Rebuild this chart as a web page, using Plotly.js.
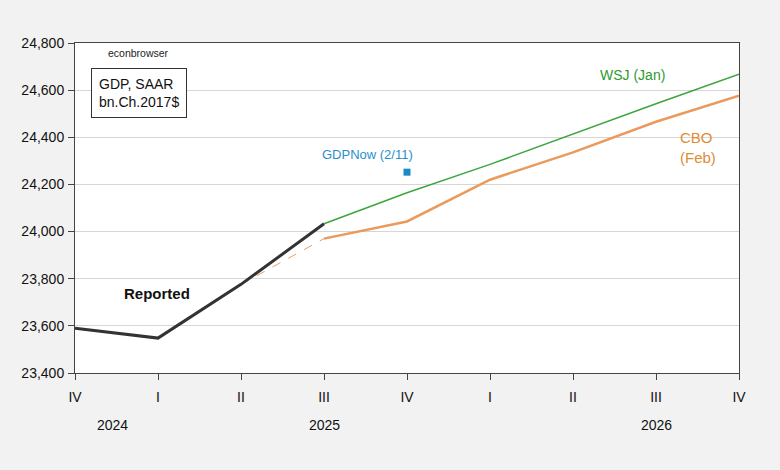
<!DOCTYPE html>
<html>
<head>
<meta charset="utf-8">
<script src="https://cdn.plot.ly/plotly-3.0.1.min.js"></script>
<style>html,body{margin:0;padding:0;background:#f2f2f2;}#chart{width:780px;height:470px;}</style>
</head>
<body>
<div id="chart"></div>
<script>
// Quarter index: 0 = 2024Q4 ... 8 = 2026Q4
const quarterLabels = ["IV","I","II","III","IV","I","II","III","IV"];
const yearLabels = ["2024","2025","2026"];
const yearPositions = [0.45, 3, 7];

const reportedX = [0, 1, 2, 3];
const reportedY = [23590, 23548, 23776, 24033];

const cboDashX = [2, 3];
const cboDashY = [23776, 23970];

const cboX = [3, 4, 5, 6, 7, 8];
const cboY = [23970, 24043, 24220, 24336, 24466, 24576];

const wsjX = [3, 4, 5, 6, 7, 8];
const wsjY = [24033, 24165, 24285, 24415, 24542, 24668];

const gdpNowX = [4];
const gdpNowY = [24252];

const traces = [
  {x: cboDashX, y: cboDashY, mode: "lines", line: {color: "#e8a060", width: 1, dash: "dash"}, hoverinfo: "skip"},
  {x: cboX, y: cboY, mode: "lines", line: {color: "#e99a5c", width: 2.5}},
  {x: wsjX, y: wsjY, mode: "lines", line: {color: "#3ea53e", width: 1.5}},
  {x: reportedX, y: reportedY, mode: "lines", line: {color: "#333333", width: 3}},
  {x: gdpNowX, y: gdpNowY, mode: "markers", marker: {color: "#1f88c8", size: 7, symbol: "square"}}
];

const font = "Liberation Sans, Arial, sans-serif";

const annotations = [
  {text: "econbrowser", x: 0.095, y: 0.97, xref: "paper", yref: "paper", showarrow: false, font: {family: font, size: 10.5, color: "#222"}, xanchor: "center", yanchor: "middle"},
  {text: "GDP, SAAR<br>bn.Ch.2017$", x: 0.097, y: 0.85, xref: "paper", yref: "paper", showarrow: false, align: "left", font: {family: font, size: 14, color: "#111"}, bordercolor: "#333", borderwidth: 1, borderpad: 7, bgcolor: "#ffffff", xanchor: "center", yanchor: "middle"},
  {text: "GDPNow (2/11)", x: 3.52, y: 24325, showarrow: false, font: {family: font, size: 13, color: "#2a90cc"}, xanchor: "center", yanchor: "middle"},
  {text: "WSJ (Jan)", x: 6.72, y: 24665, showarrow: false, font: {family: font, size: 14, color: "#2e9a2e"}, xanchor: "center", yanchor: "middle"},
  {text: "CBO<br>(Feb)", x: 7.27, y: 24358, showarrow: false, align: "left", font: {family: font, size: 15, color: "#e08c34"}, xanchor: "left", yanchor: "middle"},
  {text: "<b>Reported</b>", x: 0.99, y: 23738, showarrow: false, font: {family: font, size: 15, color: "#111"}, xanchor: "center", yanchor: "middle"}
];
yearLabels.forEach((t, i) => {
  annotations.push({text: t, x: yearPositions[i], y: -0.158, xref: "x", yref: "paper", showarrow: false, font: {family: font, size: 14, color: "#111"}, xanchor: "center", yanchor: "middle"});
});

const layout = {
  width: 780, height: 470,
  margin: {l: 75, r: 41, t: 43, b: 97},
  paper_bgcolor: "#f2f2f2",
  plot_bgcolor: "#ffffff",
  showlegend: false,
  font: {family: font, size: 14, color: "#111"},
  xaxis: {
    range: [0, 8], tickmode: "array", tickvals: [0,1,2,3,4,5,6,7,8], ticktext: quarterLabels,
    showgrid: false, zeroline: false, showline: true, linecolor: "#444", linewidth: 1, mirror: true,
    ticks: "outside", ticklen: 6, tickcolor: "#444", ticklabelstandoff: 5,
    tickfont: {family: font, size: 14, color: "#111"}
  },
  yaxis: {
    range: [23400, 24800], tickvals: [23400, 23600, 23800, 24000, 24200, 24400, 24600, 24800],
    tickformat: ",d", showgrid: true, gridcolor: "#d6d6d6", gridwidth: 1, zeroline: false,
    showline: true, linecolor: "#444", linewidth: 1, mirror: true,
    ticks: "outside", ticklen: 6, tickcolor: "#444", ticklabelstandoff: 1,
    tickfont: {family: font, size: 14, color: "#111"}
  },
  annotations: annotations
};

Plotly.newPlot("chart", traces, layout, {staticPlot: true, displayModeBar: false});
</script>
</body>
</html>
